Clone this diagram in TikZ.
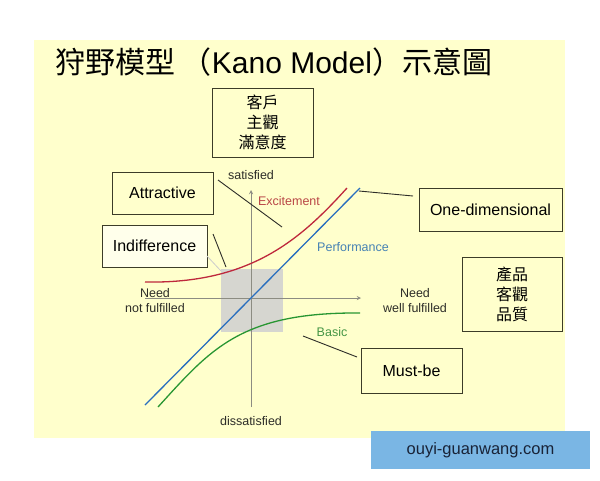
\documentclass[tikz,border=0pt]{standalone}
\usepackage{fontspec}
\setmainfont{Liberation Sans}
\newfontfamily\cjk{Noto Sans CJK TC}
\usepackage{xcolor}
\definecolor{kanoyellow}{RGB}{255,255,204}
\definecolor{boxline}{RGB}{60,60,40}
\definecolor{leadergray}{RGB}{45,45,40}
\definecolor{axisgray}{RGB}{140,140,130}
\definecolor{axistext}{RGB}{45,45,40}
\definecolor{zonegray}{RGB}{214,214,208}
\definecolor{curvered}{RGB}{190,40,60}
\definecolor{textred}{RGB}{185,70,70}
\definecolor{curveblue}{RGB}{40,110,190}
\definecolor{textblue}{RGB}{70,130,180}
\definecolor{curvegreen}{RGB}{40,150,50}
\definecolor{textgreen}{RGB}{70,150,70}
\definecolor{markblue}{RGB}{122,182,228}
\definecolor{marktext}{RGB}{25,35,55}

\begin{document}
\begin{tikzpicture}[x=1pt, y=-1pt,
  labelbox/.style={draw=boxline, line width=1pt, inner sep=0pt, font=\fontsize{16}{20}\selectfont},
  cjkbox/.style={labelbox, align=center, font=\cjk\fontsize{16}{20}\selectfont},
  axislabel/.style={align=center, text=axistext, font=\fontsize{12.5}{15}\selectfont},
  curvelabel/.style={font=\fontsize{12.5}{15}\selectfont},
  leader/.style={draw=leadergray, line width=0.9pt},
  kanocurve/.style={line width=1.3pt}]

  % Canvas
  \useasboundingbox (0,0) rectangle (600,480);
  \fill[white] (0,0) rectangle (600,480);
  \fill[kanoyellow] (34,40) rectangle (565,438);

  % Title
  \node[anchor=west, inner sep=0pt, font=\fontsize{30}{36}\selectfont] (title) at (55,62)
    {{\cjk 狩野模型 （}Kano Model{\cjk ）示意圖}};

  % Neutral zone
  \fill[zonegray] (221,269) rectangle (283,332);

  % Axes
  \coordinate (xstart) at (145,298);
  \coordinate (xend) at (361,298);
  \coordinate (ybottom) at (251,407);
  \coordinate (ytop) at (251,190);
  \draw[axisgray, line width=0.9pt, ->, >=stealth] (xstart) -- (xend);
  \draw[axisgray, line width=0.9pt, ->, >=stealth] (ybottom) -- (ytop);

  \node[axislabel] (satisfied) at (251,175) {satisfied};
  \node[axislabel] (dissatisfied) at (251,421) {dissatisfied};
  \node[axislabel] (notfulfilled) at (155,300.5) {Need\\not fulfilled};
  \node[axislabel] (wellfulfilled) at (415,300.5) {Need\\well fulfilled};

  % Curves
  \coordinate (perfstart) at (145,405);
  \coordinate (perfend) at (360,188);
  \draw[kanocurve, curveblue] (perfstart) -- (perfend);
  \draw[kanocurve, curvered] (145,282) .. controls (250,284) and (300,240) .. (347,188);
  \draw[kanocurve, curvegreen] (158,407) .. controls (210,350) and (240,312) .. (360,313);

  \node[curvelabel, text=textred] (excitement) at (289,201) {Excitement};
  \node[curvelabel, text=textblue] (performance) at (353,247) {Performance};
  \node[curvelabel, text=textgreen] (basic) at (332,332) {Basic};

  % Boxes
  \node[cjkbox, minimum width=101pt, minimum height=69pt] (customer) at (262.5,122.5) {客戶\\主觀\\滿意度};
  \node[labelbox, minimum width=101pt, minimum height=42pt] (attractive) at (162.5,193) {Attractive};
  \node[labelbox, fill=white!60!kanoyellow, minimum width=105pt, minimum height=42pt] (indifference) at (154.5,246) {Indifference};
  \node[labelbox, minimum width=143pt, minimum height=43pt] (onedim) at (490.5,209.5) {One-dimensional};
  \node[cjkbox, minimum width=100pt, minimum height=74pt] (product) at (512,294) {產品\\客觀\\品質};
  \node[labelbox, minimum width=101pt, minimum height=45pt] (mustbe) at (411.5,370.5) {Must-be};

  % Leader lines
  \coordinate (attrfrom) at (218,180);
  \coordinate (attrto) at (282,227);
  \draw[leader] (attrfrom) -- (attrto);
  \coordinate (indiffrom) at (213,234);
  \coordinate (indifto) at (226,267);
  \draw[leader] (indiffrom) -- (indifto);
  \coordinate (fadefrom) at (207,256);
  \coordinate (fadeto) at (221,271);
  \draw[gray!40, line width=0.8pt] (fadefrom) -- (fadeto);
  \coordinate (onedimfrom) at (359,191);
  \coordinate (onedimto) at (413,196);
  \draw[leader] (onedimfrom) -- (onedimto);
  \coordinate (mustfrom) at (303,336);
  \coordinate (mustto) at (357,357);
  \draw[leader] (mustfrom) -- (mustto);

  % Watermark
  \node[fill=markblue, text=marktext, minimum width=219pt, minimum height=38pt, inner sep=0pt,
    font=\fontsize{16.5}{20}\selectfont] (watermark) at (480.5,450) {ouyi-guanwang.com};

\end{tikzpicture}
\end{document}
